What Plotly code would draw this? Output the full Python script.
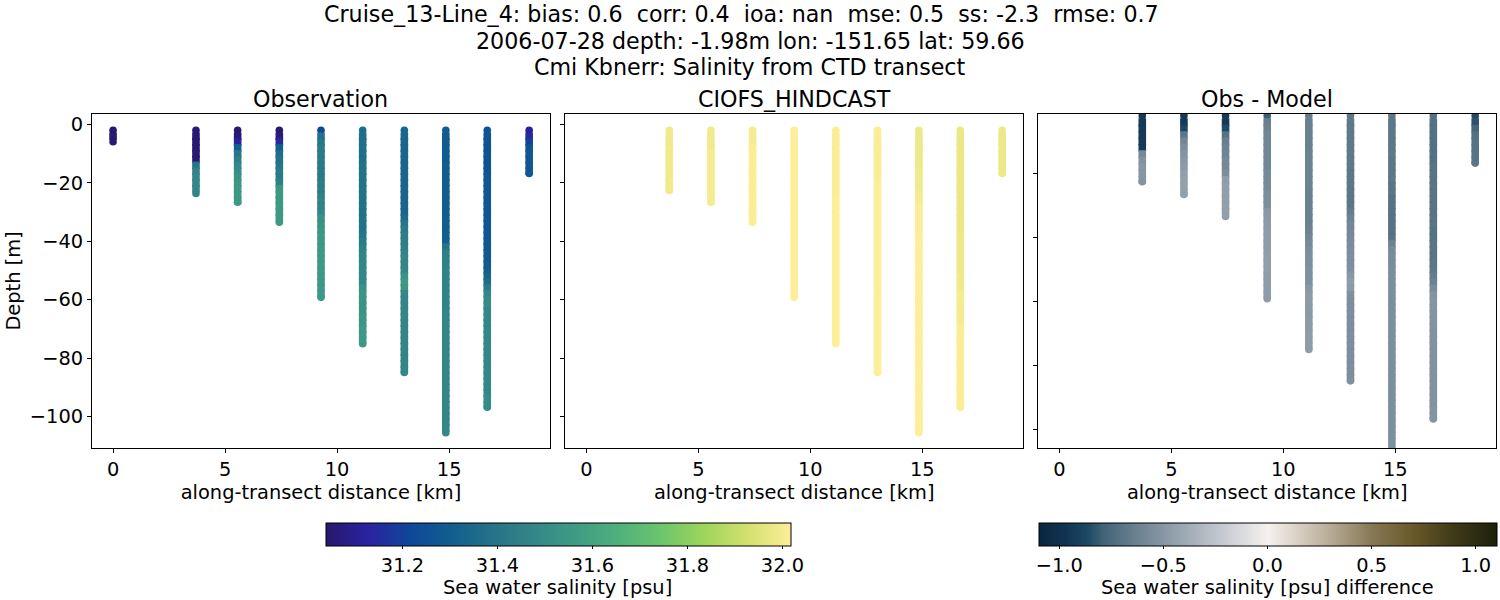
import plotly.graph_objects as go
import plotly.express as px

# cast positions along the transect [km]
cast_km = [0.0, 3.7, 5.56, 7.42, 9.28, 11.14, 13.0, 14.85, 16.7, 18.57]

# depth levels shared by all casts, last point of a cast is its bottom depth
depth_levels = [-2, -4, -6, -8, -10, -12, -14, -16, -18, -20,
                -22, -24, -26, -28, -30, -32, -34, -36, -38, -40,
                -42, -44, -46, -48, -50, -52, -54, -56, -58, -60,
                -62, -64, -66, -68, -70, -72, -74, -76, -78, -80,
                -82, -84, -86, -88, -90, -92, -94, -96, -98, -100,
                -102, -104]
obs_bottom = [-5.9, -23.6, -26.6, -33.5, -59.2, -75.1, -84.9, -105.6, -96.8, -16.8]
model_bottom = [-22.6, -26.6, -33.5, -59.2, -75.1, -84.9, -105.6, -96.8, -16.8]

obs_salinity = [
    [31.05, 31.05, 31.05],
    [31.05, 31.05, 31.05, 31.05, 31.05, 31.05, 31.40, 31.46, 31.48, 31.48, 31.48, 31.47],
    [31.05, 31.05, 31.12, 31.30, 31.40, 31.44, 31.48, 31.50, 31.52, 31.54, 31.55, 31.55, 31.55, 31.55],
    [31.05, 31.06, 31.14, 31.30, 31.36, 31.38, 31.40, 31.42, 31.42, 31.45, 31.54, 31.55, 31.55, 31.55,
     31.55, 31.55, 31.55],
    [31.22, 31.38, 31.40, 31.42, 31.42, 31.42, 31.42, 31.42, 31.42, 31.44, 31.44, 31.44, 31.46, 31.46,
     31.47, 31.52, 31.53, 31.54, 31.55, 31.55, 31.55, 31.55, 31.56, 31.56, 31.56, 31.55, 31.55, 31.55,
     31.55, 31.55],
    [31.36, 31.37, 31.37, 31.37, 31.37, 31.37, 31.38, 31.38, 31.38, 31.38, 31.38, 31.38, 31.38, 31.38,
     31.38, 31.38, 31.38, 31.38, 31.40, 31.42, 31.44, 31.46, 31.47, 31.47, 31.48, 31.48, 31.48, 31.52,
     31.54, 31.54, 31.53, 31.53, 31.54, 31.54, 31.55, 31.55, 31.55, 31.55],
    [31.33, 31.33, 31.33, 31.33, 31.33, 31.33, 31.33, 31.33, 31.33, 31.33, 31.33, 31.33, 31.33, 31.33,
     31.33, 31.36, 31.40, 31.42, 31.43, 31.44, 31.45, 31.46, 31.47, 31.47, 31.48, 31.52, 31.55, 31.54,
     31.48, 31.47, 31.47, 31.47, 31.47, 31.47, 31.47, 31.47, 31.47, 31.47, 31.47, 31.47, 31.47, 31.47,
     31.48],
    [31.29, 31.29, 31.29, 31.29, 31.29, 31.29, 31.30, 31.30, 31.30, 31.30, 31.30, 31.30, 31.30, 31.30,
     31.30, 31.30, 31.30, 31.30, 31.31, 31.31, 31.40, 31.44, 31.45, 31.45, 31.46, 31.46, 31.46, 31.46,
     31.46, 31.46, 31.46, 31.47, 31.47, 31.47, 31.47, 31.47, 31.47, 31.47, 31.47, 31.47, 31.47, 31.47,
     31.47, 31.47, 31.47, 31.47, 31.47, 31.47, 31.47, 31.47, 31.47, 31.48, 31.48],
    [31.26, 31.26, 31.26, 31.26, 31.26, 31.26, 31.26, 31.26, 31.27, 31.27, 31.27, 31.27, 31.27, 31.27,
     31.27, 31.27, 31.27, 31.27, 31.27, 31.27, 31.28, 31.28, 31.28, 31.29, 31.30, 31.33, 31.36, 31.42,
     31.48, 31.49, 31.49, 31.48, 31.48, 31.48, 31.48, 31.48, 31.48, 31.48, 31.48, 31.48, 31.48, 31.48,
     31.48, 31.48, 31.48, 31.48, 31.49, 31.49, 31.49],
    [31.12, 31.14, 31.20, 31.26, 31.27, 31.27, 31.27, 31.27, 31.28],
]

model_salinity = [
    [31.99, 31.99, 31.99, 31.99, 31.99, 31.99, 31.99, 31.99, 31.99, 31.99, 31.99, 31.99],
    [31.99, 31.99, 31.99, 31.99, 32.0, 32.0, 32.0, 32.0, 32.0, 32.0, 32.0, 32.0, 32.0, 32.0],
    [32.0, 32.0, 32.0, 32.01, 32.01, 32.01, 32.01, 32.01, 32.01, 32.01, 32.01, 32.01, 32.01, 32.01,
     32.01, 32.01, 32.01],
    [32.02, 32.02, 32.02, 32.02, 32.02, 32.02, 32.02, 32.02, 32.02, 32.02, 32.02, 32.02, 32.02, 32.02,
     32.02, 32.02, 32.02, 32.02, 32.02, 32.02, 32.02, 32.02, 32.02, 32.02, 32.02, 32.02, 32.02, 32.02,
     32.02, 32.02],
    [32.01, 32.01, 32.01, 32.01, 32.01, 32.01, 32.01, 32.01, 32.01, 32.01, 32.01, 32.01, 32.02, 32.02,
     32.02, 32.02, 32.02, 32.02, 32.02, 32.02, 32.02, 32.02, 32.02, 32.02, 32.02, 32.02, 32.02, 32.02,
     32.02, 32.02, 32.02, 32.02, 32.02, 32.02, 32.02, 32.02, 32.02, 32.02],
    [32.01, 32.01, 32.01, 32.01, 32.01, 32.01, 32.01, 32.01, 32.01, 32.02, 32.02, 32.02, 32.02, 32.02,
     32.02, 32.02, 32.02, 32.02, 32.02, 32.02, 32.02, 32.02, 32.02, 32.02, 32.02, 32.02, 32.02, 32.02,
     32.02, 32.02, 32.02, 32.02, 32.02, 32.02, 32.02, 32.02, 32.02, 32.02, 32.02, 32.02, 32.02, 32.02,
     32.02],
    [31.98, 31.98, 31.98, 31.98, 31.98, 31.98, 31.98, 31.99, 31.99, 31.99, 31.99, 32.0, 32.0, 32.01,
     32.01, 32.01, 32.01, 32.01, 32.02, 32.02, 32.02, 32.02, 32.02, 32.02, 32.02, 32.02, 32.02, 32.02,
     32.02, 32.02, 32.02, 32.02, 32.02, 32.02, 32.02, 32.02, 32.02, 32.02, 32.02, 32.02, 32.02, 32.02,
     32.02, 32.02, 32.02, 32.02, 32.02, 32.02, 32.02, 32.02, 32.02, 32.02, 32.02],
    [31.975, 31.975, 31.975, 31.975, 31.975, 31.975, 31.975, 31.975, 31.975, 31.975, 31.975, 31.975, 31.975, 31.975,
     31.975, 31.975, 31.975, 31.975, 31.98, 31.98, 31.98, 31.985, 31.985, 31.985, 31.985, 31.99, 31.99, 31.99,
     32.0, 32.0, 32.0, 32.0, 32.0, 32.0, 32.01, 32.01, 32.01, 32.01, 32.01, 32.01, 32.01, 32.01,
     32.01, 32.01, 32.01, 32.01, 32.01, 32.01, 32.01],
    [31.98, 31.98, 31.98, 31.98, 31.98, 31.98, 31.98, 31.98, 31.98],
]

salinity_ticks = [31.2, 31.4, 31.6, 31.8, 32.0]
diff_ticks = [-1.0, -0.5, 0.0, 0.5, 1.0]
diff_tick_labels = ["\u22121.0", "\u22120.5", "0.0", "0.5", "1.0"]
x_ticks = [0, 5, 10, 15]
y_ticks = [0, -20, -40, -60, -80, -100]
y_tick_labels = ["0", "\u221220", "\u221240", "\u221260", "\u221280", "\u2212100"]
diff_y_ticks = [-20, -40, -60, -80, -100]

# cmocean "diff" is not shipped with plotly, stops read off the colorbar
diff_scale = [
    [0.0, "rgb(10,38,64)"],
    [0.06, "rgb(18,52,82)"],
    [0.105, "rgb(28,72,100)"],
    [0.141, "rgb(65,100,120)"],
    [0.209, "rgb(105,128,143)"],
    [0.273, "rgb(135,152,164)"],
    [0.386, "rgb(190,196,204)"],
    [0.5, "rgb(245,241,238)"],
    [0.62, "rgb(190,180,160)"],
    [0.727, "rgb(135,120,85)"],
    [0.82, "rgb(105,88,40)"],
    [0.9, "rgb(65,60,25)"],
    [1.0, "rgb(28,32,10)"],
]

FONT = "DejaVu Sans"
TICK_SIZE = 19.4
TITLE_SIZE = 22.2

fig = go.Figure()


def add_cast(km, depth, values, axis_id, color_axis):
    # squares stack into a solid column, circles give the rounded ends
    symbols = ["circle"] + ["square"] * (len(values) - 2) + ["circle"]
    fig.add_trace(go.Scatter(
        x=[km] * len(values), y=depth,
        mode="markers",
        xaxis="x" + axis_id, yaxis="y" + axis_id,
        marker=dict(size=7.6, symbol=symbols, color=values,
                    coloraxis=color_axis, line=dict(width=0)),
        showlegend=False,
    ))


for k in range(len(cast_km)):
    sal = obs_salinity[k]
    add_cast(cast_km[k], depth_levels[:len(sal) - 1] + [obs_bottom[k]], sal, "", "coloraxis")

for k in range(len(model_salinity)):
    sal = model_salinity[k]
    depth = depth_levels[:len(sal) - 1] + [model_bottom[k]]
    add_cast(cast_km[k + 1], depth, sal, "2", "coloraxis")
    diff = [round(o - m, 3) for o, m in zip(obs_salinity[k + 1], sal)]
    add_cast(cast_km[k + 1], depth, diff, "3", "coloraxis2")

x_common = dict(range=[-0.94, 19.5], tickmode="array", tickvals=x_ticks, ticks="outside",
                ticklen=4, tickcolor="black", showgrid=False, zeroline=False,
                showline=True, linecolor="black", linewidth=1, mirror=True,
                title=dict(text="along-transect distance [km]", standoff=4,
                           font=dict(size=TICK_SIZE)))
y_common = dict(tickmode="array", ticks="outside", ticklen=4, tickcolor="black",
                showgrid=False, zeroline=False, showline=True, linecolor="black",
                linewidth=1, mirror=True)

fig.update_layout(
    width=1500, height=600, autosize=False,
    margin=dict(l=0, r=0, t=0, b=0, autoexpand=False),
    paper_bgcolor="white", plot_bgcolor="white",
    font=dict(family=FONT, size=TICK_SIZE, color="black"),
    xaxis=dict(x_common, domain=[92 / 1500, 550 / 1500]),
    xaxis2=dict(x_common, domain=[565.4 / 1500, 1023 / 1500]),
    xaxis3=dict(x_common, domain=[1038.4 / 1500, 1496 / 1500]),
    yaxis=dict(y_common, domain=[152 / 600, 486 / 600], range=[-110.8, 3.6], anchor="x",
               tickvals=y_ticks, ticktext=y_tick_labels,
               title=dict(text="Depth [m]", standoff=4, font=dict(size=TICK_SIZE))),
    yaxis2=dict(y_common, domain=[152 / 600, 486 / 600], range=[-110.8, 3.6], anchor="x2",
                tickvals=y_ticks, showticklabels=False),
    yaxis3=dict(y_common, domain=[152 / 600, 486 / 600], range=[-105.9, -1.45], anchor="x3",
                tickvals=diff_y_ticks, showticklabels=False),
    coloraxis=dict(
        colorscale=px.colors.cmocean.haline, cmin=31.038, cmax=32.017,
        colorbar=dict(orientation="h", lenmode="pixels", len=465, thickness=23,
                      x=325.5 / 1500, xanchor="left", y=1 - 522.5 / 600, yanchor="top",
                      xpad=0, ypad=0, outlinecolor="black", outlinewidth=1,
                      tickmode="array", tickvals=salinity_ticks,
                      ticktext=["31.2", "31.4", "31.6", "31.8", "32.0"],
                      ticks="outside", ticklen=3, tickcolor="black"),
    ),
    coloraxis2=dict(
        colorscale=diff_scale, cmin=-1.1, cmax=1.1,
        colorbar=dict(orientation="h", lenmode="pixels", len=458, thickness=23,
                      x=1038.5 / 1500, xanchor="left", y=1 - 522.5 / 600, yanchor="top",
                      xpad=0, ypad=0, outlinecolor="black", outlinewidth=1,
                      tickmode="array", tickvals=diff_ticks, ticktext=diff_tick_labels,
                      ticks="outside", ticklen=3, tickcolor="black"),
    ),
)

header = [
    ("Cruise_13-Line_4: bias: 0.6  corr: 0.4  ioa: nan  mse: 0.5  ss: -2.3  rmse: 0.7", 741, 14, TITLE_SIZE),
    ("2006-07-28 depth: -1.98m lon: -151.65 lat: 59.66", 750, 41, TITLE_SIZE),
    ("Cmi Kbnerr: Salinity from CTD transect", 750, 67, TITLE_SIZE),
    ("Observation", 320, 99, TITLE_SIZE),
    ("CIOFS_HINDCAST", 794, 99, TITLE_SIZE),
    ("Obs - Model", 1267, 99, TITLE_SIZE),
    ("Sea water salinity [psu]", 557, 587, TICK_SIZE),
    ("Sea water salinity [psu] difference", 1267, 587, TICK_SIZE),
]
for text, px_x, px_y, size in header:
    fig.add_annotation(text=text.replace("  ", "&nbsp; "), xref="paper", yref="paper",
                       x=px_x / 1500, y=1 - px_y / 600, xanchor="center", yanchor="middle",
                       showarrow=False, font=dict(size=size))

# the page default body margin would push the figure 8px off
fig.write_html("out.html", config=dict(displayModeBar=False),
               post_script="document.body.style.margin = '0';")
